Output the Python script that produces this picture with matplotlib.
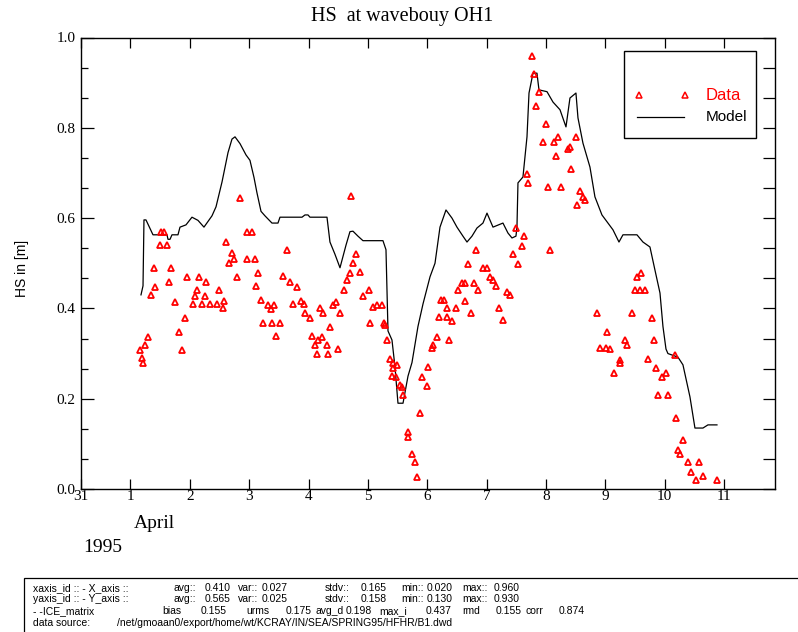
import matplotlib
matplotlib.use("Agg")
import numpy as np
import matplotlib.pyplot as plt
from matplotlib.lines import Line2D
from matplotlib.patches import Rectangle

# time axis in days: 1 = 1 April 1995 00h, 0 = 31 March
model_day = [1.177, 1.211, 1.227, 1.261, 1.379, 1.615, 1.632, 1.666, 1.699, 1.800,
             1.834, 1.935, 2.036, 2.137, 2.238, 2.373, 2.441, 2.542, 2.643, 2.710,
             2.761, 2.845, 2.946, 3.013, 3.081, 3.131, 3.199, 3.266, 3.384, 3.485,
             3.519, 3.890, 3.940, 3.991, 4.024, 4.311, 4.361, 4.445, 4.530, 4.631,
             4.698, 4.749, 4.833, 4.917, 5.254, 5.305, 5.339, 5.406, 5.457, 5.507,
             5.592, 5.676, 5.743, 5.844, 5.929, 6.047, 6.131, 6.215, 6.316, 6.417,
             6.501, 6.602, 6.670, 6.754, 6.838, 6.939, 7.007, 7.108, 7.276, 7.360,
             7.428, 7.495, 7.512, 7.529, 7.613, 7.681, 7.715, 7.782, 7.849, 7.883,
             8.018, 8.119, 8.237, 8.338, 8.405, 8.506, 8.540, 8.624, 8.742, 8.826,
             8.944, 9.130, 9.231, 9.298, 9.534, 9.635, 9.753, 9.837, 9.922, 9.972,
             10.023, 10.056, 10.225, 10.309, 10.427, 10.511, 10.646, 10.730, 10.882]
model_hs = [0.43, 0.45, 0.596, 0.596, 0.563, 0.563, 0.553, 0.553, 0.563, 0.563,
            0.58, 0.585, 0.602, 0.595, 0.58, 0.605, 0.625, 0.68, 0.745, 0.775,
            0.78, 0.765, 0.74, 0.728, 0.69, 0.656, 0.615, 0.605, 0.589, 0.589,
            0.602, 0.602, 0.607, 0.607, 0.602, 0.602, 0.547, 0.52, 0.49, 0.54,
            0.57, 0.571, 0.56, 0.55, 0.55, 0.53, 0.35, 0.33, 0.27, 0.19,
            0.19, 0.25, 0.28, 0.36, 0.41, 0.47, 0.50, 0.58, 0.618, 0.60,
            0.58, 0.56, 0.547, 0.56, 0.578, 0.589, 0.611, 0.58, 0.589, 0.567,
            0.556, 0.56, 0.58, 0.678, 0.691, 0.78, 0.877, 0.921, 0.921, 0.884,
            0.88, 0.857, 0.84, 0.802, 0.866, 0.877, 0.822, 0.766, 0.713, 0.647,
            0.607, 0.574, 0.547, 0.563, 0.563, 0.547, 0.536, 0.485, 0.434, 0.36,
            0.31, 0.30, 0.292, 0.275, 0.204, 0.135, 0.135, 0.142, 0.142]

data_day = [1.16, 1.19, 1.21, 1.24, 1.30, 1.34, 1.40, 1.41, 1.49, 1.51,
            1.56, 1.61, 1.65, 1.68, 1.75, 1.82, 1.86, 1.92, 1.96, 2.05,
            2.09, 2.12, 2.16, 2.20, 2.26, 2.28, 2.34, 2.45, 2.49, 2.56,
            2.58, 2.61, 2.66, 2.71, 2.74, 2.79, 2.85, 2.96, 2.96, 3.04,
            3.09, 3.11, 3.15, 3.20, 3.24, 3.32, 3.36, 3.38, 3.41, 3.46,
            3.52, 3.57, 3.63, 3.68, 3.73, 3.81, 3.88, 3.92, 3.94, 4.02,
            4.05, 4.11, 4.14, 4.16, 4.19, 4.22, 4.25, 4.31, 4.33, 4.36,
            4.42, 4.46, 4.50, 4.53, 4.60, 4.65, 4.70, 4.71, 4.75, 4.80,
            4.86, 4.91, 5.02, 5.04, 5.09, 5.15, 5.23, 5.27, 5.29, 5.33,
            5.37, 5.41, 5.43, 5.43, 5.47, 5.49, 5.54, 5.57, 5.60, 5.68,
            5.68, 5.75, 5.79, 5.82, 5.88, 5.92, 5.99, 6.02, 6.08, 6.10,
            6.16, 6.20, 6.24, 6.28, 6.33, 6.33, 6.36, 6.41, 6.48, 6.52,
            6.58, 6.64, 6.64, 6.69, 6.73, 6.79, 6.83, 6.86, 6.94, 7.01,
            7.06, 7.11, 7.16, 7.21, 7.28, 7.34, 7.39, 7.44, 7.50, 7.53,
            7.59, 7.63, 7.68, 7.70, 7.76, 7.80, 7.84, 7.89, 7.95, 8.00,
            8.04, 8.07, 8.14, 8.17, 8.21, 8.25, 8.38, 8.41, 8.43, 8.51,
            8.52, 8.57, 8.62, 8.66, 8.86, 8.91, 9.02, 9.03, 9.08, 9.14,
            9.24, 9.25, 9.33, 9.36, 9.45, 9.50, 9.53, 9.59, 9.61, 9.67,
            9.72, 9.78, 9.82, 9.85, 9.89, 9.95, 10.02, 10.06, 10.17, 10.19,
            10.23, 10.26, 10.31, 10.40, 10.44, 10.53, 10.58, 10.65, 10.89]
data_hs = [0.308, 0.29, 0.278, 0.319, 0.337, 0.43, 0.49, 0.448, 0.54, 0.569,
           0.569, 0.54, 0.459, 0.49, 0.415, 0.348, 0.308, 0.379, 0.47, 0.41,
           0.428, 0.44, 0.47, 0.41, 0.428, 0.458, 0.41, 0.41, 0.44, 0.40,
           0.417, 0.548, 0.50, 0.523, 0.509, 0.47, 0.644, 0.569, 0.509, 0.569,
           0.509, 0.45, 0.479, 0.419, 0.367, 0.408, 0.398, 0.367, 0.408, 0.339,
           0.367, 0.472, 0.529, 0.458, 0.409, 0.448, 0.417, 0.41, 0.389, 0.378,
           0.339, 0.319, 0.299, 0.33, 0.40, 0.337, 0.389, 0.319, 0.299, 0.359,
           0.408, 0.415, 0.309, 0.389, 0.441, 0.463, 0.478, 0.649, 0.50, 0.52,
           0.481, 0.427, 0.44, 0.367, 0.404, 0.408, 0.408, 0.367, 0.363, 0.33,
           0.289, 0.25, 0.278, 0.267, 0.249, 0.275, 0.23, 0.227, 0.208, 0.127,
           0.116, 0.078, 0.059, 0.027, 0.168, 0.249, 0.228, 0.27, 0.312, 0.319,
           0.337, 0.382, 0.419, 0.419, 0.38, 0.40, 0.33, 0.371, 0.40, 0.441,
           0.457, 0.457, 0.417, 0.498, 0.39, 0.457, 0.529, 0.44, 0.489, 0.489,
           0.47, 0.463, 0.45, 0.40, 0.374, 0.437, 0.43, 0.52, 0.577, 0.498,
           0.538, 0.56, 0.698, 0.678, 0.959, 0.919, 0.848, 0.88, 0.769, 0.808,
           0.668, 0.529, 0.769, 0.738, 0.779, 0.668, 0.752, 0.758, 0.708, 0.779,
           0.629, 0.659, 0.647, 0.64, 0.389, 0.312, 0.312, 0.348, 0.309, 0.258,
           0.286, 0.278, 0.33, 0.319, 0.389, 0.441, 0.469, 0.441, 0.479, 0.441,
           0.289, 0.378, 0.33, 0.267, 0.208, 0.249, 0.258, 0.208, 0.297, 0.157,
           0.086, 0.078, 0.109, 0.059, 0.038, 0.02, 0.059, 0.029, 0.02]

xtick_pos = [0.166, 1, 2, 3, 4, 5, 6, 7, 8, 9, 10, 11]
xtick_lab = ["31", "1", "2", "3", "4", "5", "6", "7", "8", "9", "10", "11"]
ytick_pos = [0.0, 0.2, 0.4, 0.6, 0.8, 1.0]
ytick_lab = ["0.0", "0.2", "0.4", "0.6", "0.8", "1.0"]

foot1 = [(33, "xaxis_id :: - X_axis ::"), (173, "avg::"), (205, "0.410"), (238, "var::"),
         (262, "0.027"), (325, "stdv::"), (361, "0.165"), (401, "min::"), (427, "0.020"),
         (462, "max::"), (494, "0.960")]
foot2 = [(33, "yaxis_id :: - Y_axis ::"), (173, "avg::"), (205, "0.565"), (238, "var::"),
         (262, "0.025"), (325, "stdv::"), (361, "0.158"), (401, "min::"), (427, "0.130"),
         (462, "max::"), (494, "0.930")]
foot3 = [(33, "- -ICE_matrix"), (162, "bias"), (201, "0.155"), (246, "urms"), (286, "0.175"),
         (316, "avg_d"), (346, "0.198"), (379, "max_i"), (426, "0.437"), (462, "rmd"),
         (496, "0.155"), (526, "corr"), (559, "0.874")]
foot4 = [(33, "data source:"), (117, "/net/gmoaan0/export/home/wt/KCRAY/IN/SEA/SPRING95/HFHR/B1.dwd")]

W, H = 798, 632
fx = lambda x: x / W
fy = lambda y: 1 - y / H

serif = "Liberation Serif"
sans = "Liberation Sans"

fig = plt.figure(figsize=(W / 100, H / 100), dpi=100)
ax = fig.add_axes([fx(81), fy(489), (775 - 81) / W, (489 - 37.5) / H])

ax.plot(model_day, model_hs, color="black", lw=0.9)
ax.plot(data_day, data_hs, ls="none", marker="^", ms=4.0, mfc="none",
        mec="red", mew=1.3)

ax.set_xlim(0.166, 11.86)
ax.set_ylim(0, 1.0)
ax.set_xticks(xtick_pos)
ax.set_xticklabels(xtick_lab, fontfamily=serif, fontsize=11)
ax.set_yticks(ytick_pos)
ax.set_yticklabels(ytick_lab, fontfamily=serif, fontsize=11)
ax.set_yticks(np.arange(0, 1.0001, 0.2 / 3), minor=True)
ax.tick_params(axis="x", which="major", direction="in", length=7.5, width=0.9,
               top=True, pad=1)
ax.tick_params(axis="y", which="major", direction="in", length=9, width=0.9,
               right=False, pad=4)
ax.tick_params(axis="y", which="minor", direction="in", length=4.8, width=0.9,
               right=False)
for s in ax.spines.values():
    s.set_linewidth(1.0)

# right-hand axis: all ticks of equal length
ax2 = ax.twinx()
ax2.set_ylim(0, 1.0)
ax2.set_yticks(np.arange(0, 1.0001, 0.2 / 3))
ax2.tick_params(axis="y", direction="in", length=8.6, width=0.9, labelright=False)
ax2.spines[:].set_visible(False)

# titles and labels
fig.text(fx(402), fy(17), "HS  at wavebouy OH1", ha="center", va="center",
         fontfamily=serif, fontsize=14.5)
fig.text(fx(22), fy(268), "HS in [m]", rotation=90, ha="center", va="center",
         fontfamily=sans, fontsize=10)
fig.text(fx(154), fy(523), "April", ha="center", va="center", fontfamily=serif, fontsize=14)
fig.text(fx(103), fy(548), "1995", ha="center", va="center", fontfamily=serif, fontsize=14)

# legend box
fig.patches.append(Rectangle((fx(624), fy(138)), (756 - 624) / W, (138 - 51) / H,
                             transform=fig.transFigure, fill=False, ec="black", lw=1.0))
fig.lines.append(Line2D([fx(639), fx(685)], [fy(95), fy(95)], transform=fig.transFigure,
                        ls="none", marker="^", ms=4.5, mfc="none", mec="red", mew=1.1))
fig.lines.append(Line2D([fx(637), fx(684)], [fy(117), fy(117)], transform=fig.transFigure,
                        color="black", lw=0.9))
fig.text(fx(706), fy(95), "Data", color="red", va="center", fontfamily=sans, fontsize=12)
fig.text(fx(706), fy(117), "Model", color="black", va="center", fontfamily=sans, fontsize=11)

# statistics box at the bottom
fig.patches.append(Rectangle((fx(24), fy(640)), 1.0, (640 - 578) / H,
                             transform=fig.transFigure, fill=False, ec="black", lw=0.9))
for row, yy in zip([foot1, foot2, foot3, foot4], [588, 599.5, 611, 622.5]):
    for xx, txt in row:
        fig.text(fx(xx), fy(yy), txt, va="center", ha="left", fontfamily=sans, fontsize=7.5)

fig.savefig("out.png", dpi=100)
